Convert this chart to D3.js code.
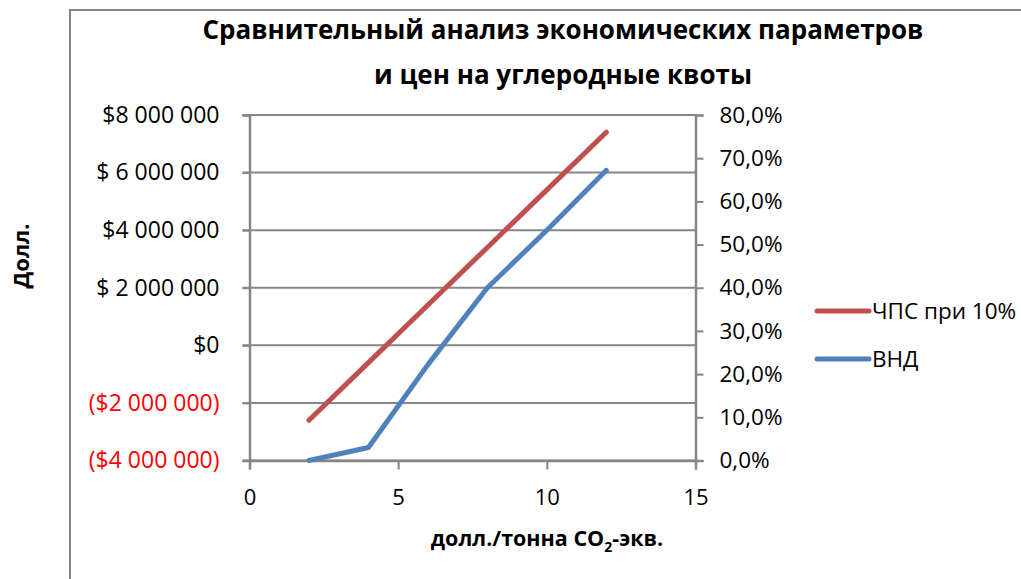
<!DOCTYPE html>
<html lang="ru">
<head>
<meta charset="utf-8">
<script src="https://cdn.jsdelivr.net/npm/d3@7"></script>
<style>
  html, body { margin: 0; padding: 0; background: #fff; }
  svg { display: block; }
  text { font-family: "Open Sans", "Noto Sans", sans-serif; }
</style>
</head>
<body>
<svg id="chart" width="1021" height="579"></svg>
<script>
// Carbon price, USD per tonne CO2-eq
const prices = [2, 4, 6, 8, 10, 12];
// Net present value at 10% discount rate, USD
const npv = [-2600000, -600000, 1400000, 3400000, 5400000, 7400000];
// Internal rate of return, fraction
const irr = [0.0, 0.030, 0.222, 0.400, 0.533, 0.672];

const seriesNames = ["ЧПС при 10%", "ВНД"];
const titleLines = ["Сравнительный анализ экономических параметров", "и цен на углеродные квоты"];
const yTitle = "Долл.";

const xTicks = [0, 5, 10, 15];
const leftTicks = [8000000, 6000000, 4000000, 2000000, 0, -2000000, -4000000];
const leftTickLabels = ["$8 000 000", "$ 6 000 000", "$4 000 000", "$ 2 000 000", "$0", "($2 000 000)", "($4 000 000)"];
const rightTicks = [0, 0.1, 0.2, 0.3, 0.4, 0.5, 0.6, 0.7, 0.8];
const rightTickLabels = ["0,0%", "10,0%", "20,0%", "30,0%", "40,0%", "50,0%", "60,0%", "70,0%", "80,0%"];

const svg = d3.select("#chart");
const grid = "#868686";
const red = "#C0504D";
const blue = "#4F81BD";

const plot = { left: 249.5, right: 695.5, top: 115, bottom: 460.5 };

const x = d3.scaleLinear().domain([0, 15]).range([plot.left, plot.right]);
const yL = d3.scaleLinear().domain([-4000000, 8000000]).range([plot.bottom, plot.top]);
const yR = d3.scaleLinear().domain([0, 0.8]).range([plot.bottom, plot.top]);

// chart frame
svg.append("rect")
  .attr("x", 70).attr("y", 10).attr("width", 1000).attr("height", 600)
  .attr("fill", "none").attr("stroke", grid).attr("stroke-width", 2);

// title
svg.append("g").selectAll("text").data(titleLines).join("text")
  .attr("x", 563).attr("y", (d, i) => 39 + i * 45)
  .attr("text-anchor", "middle")
  .attr("font-size", 26).attr("font-weight", "bold").attr("fill", "#000")
  .text(d => d);

// horizontal gridlines (left axis)
svg.append("g").selectAll("line").data(leftTicks).join("line")
  .attr("x1", plot.left - 7).attr("x2", plot.right)
  .attr("y1", d => yL(d)).attr("y2", d => yL(d))
  .attr("stroke", grid).attr("stroke-width", 2);

// left axis
const leftAxis = svg.append("g")
  .attr("transform", `translate(${plot.left},0)`)
  .call(d3.axisLeft(yL).tickValues(leftTicks).tickSize(7)
    .tickFormat((d, i) => leftTickLabels[i]));
leftAxis.select(".domain").attr("stroke", grid).attr("stroke-width", 2.5);
leftAxis.selectAll(".tick line").attr("stroke", grid).attr("stroke-width", 2);
leftAxis.selectAll(".tick text")
  .attr("x", -30).attr("font-size", 23)
  .attr("font-family", "'Open Sans', sans-serif")
  .attr("fill", d => d < 0 ? "#FF0000" : "#000");

// right axis
const rightAxis = svg.append("g")
  .attr("transform", `translate(${plot.right},0)`)
  .call(d3.axisRight(yR).tickValues(rightTicks).tickSize(8)
    .tickFormat((d, i) => rightTickLabels[i]));
rightAxis.select(".domain").attr("stroke", grid).attr("stroke-width", 2.5);
rightAxis.selectAll(".tick line").attr("stroke", grid).attr("stroke-width", 2);
rightAxis.selectAll(".tick text")
  .attr("x", 24).attr("font-size", 22.5)
  .attr("font-family", "'Open Sans', sans-serif").attr("fill", "#000");

// bottom axis
const bottomAxis = svg.append("g")
  .attr("transform", `translate(0,${plot.bottom})`)
  .call(d3.axisBottom(x).tickValues(xTicks).tickSize(9).tickFormat(d3.format("d")));
bottomAxis.select(".domain").attr("stroke", grid).attr("stroke-width", 2.5);
bottomAxis.selectAll(".tick line").attr("stroke", grid).attr("stroke-width", 2);
bottomAxis.selectAll(".tick text")
  .attr("y", 29).attr("font-size", 22)
  .attr("font-family", "'Open Sans', sans-serif").attr("fill", "#000");

// axis titles
const xt = svg.append("text")
  .attr("x", 547).attr("y", 546).attr("text-anchor", "middle")
  .attr("font-size", 21.5).attr("font-weight", "bold").attr("fill", "#000");
xt.append("tspan").text("долл./тонна CO");
xt.append("tspan").attr("font-size", 14).attr("dy", 6).text("2");
xt.append("tspan").attr("dy", -6).text("-экв.");

svg.append("text")
  .attr("transform", "translate(29,256) rotate(-90)")
  .attr("text-anchor", "middle")
  .attr("font-size", 22).attr("font-weight", "bold").attr("fill", "#000")
  .text(yTitle);

// series lines
const npvLine = d3.line().x((d, i) => x(prices[i])).y(d => yL(d));
const irrLine = d3.line().x((d, i) => x(prices[i])).y(d => yR(d));

svg.append("path").datum(npv)
  .attr("d", npvLine).attr("fill", "none")
  .attr("stroke", red).attr("stroke-width", 5)
  .attr("stroke-linecap", "round").attr("stroke-linejoin", "round");

svg.append("path").datum(irr)
  .attr("d", irrLine).attr("fill", "none")
  .attr("stroke", blue).attr("stroke-width", 5)
  .attr("stroke-linecap", "round").attr("stroke-linejoin", "round");

// legend
const legend = svg.append("g").selectAll("g")
  .data(seriesNames).join("g")
  .attr("transform", (d, i) => `translate(815,${311 + i * 48})`);
legend.append("line")
  .attr("x1", 2).attr("x2", 54).attr("y1", 0).attr("y2", 0)
  .attr("stroke", (d, i) => i === 0 ? red : blue).attr("stroke-width", 5)
  .attr("stroke-linecap", "round");
legend.append("text")
  .attr("x", 57).attr("y", 0).attr("dy", "0.35em")
  .attr("font-size", 22.5).attr("fill", "#000")
  .text(d => d);
</script>
</body>
</html>
